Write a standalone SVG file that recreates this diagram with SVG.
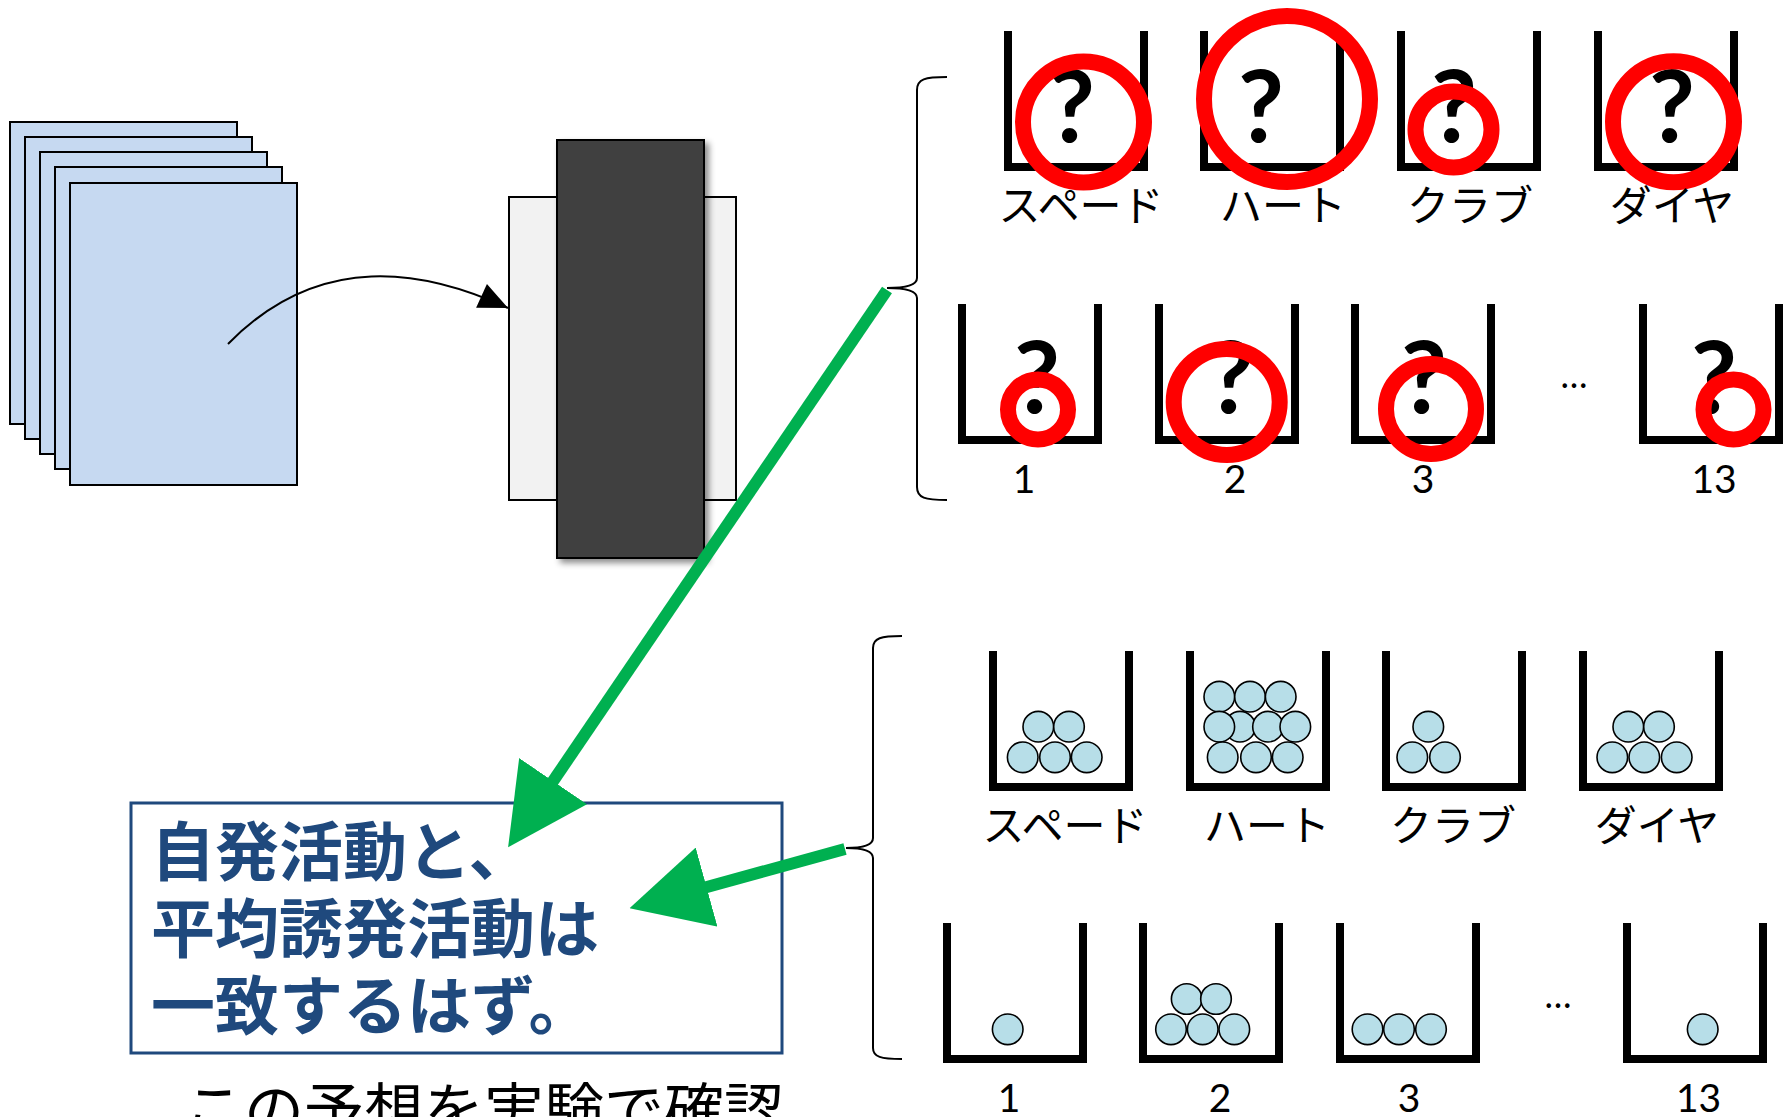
<svg xmlns="http://www.w3.org/2000/svg" xmlns:xlink="http://www.w3.org/1999/xlink" width="1783" height="1117" viewBox="0 0 1783 1117">
<defs>
<style>
.paper{fill:#c6d9f1;stroke:#000;stroke-width:2}
.bk{fill:none;stroke:#000;stroke-width:8;stroke-linejoin:miter}
.q{font-family:Lato,"Liberation Sans",sans-serif;font-weight:bold;font-size:100px;fill:#000;text-anchor:middle}
.ring{fill:none;stroke:#ff0000;stroke-width:16}
.lab{font-family:"Noto Sans CJK JP",sans-serif;font-size:42px;fill:#000;text-anchor:middle}
.num{font-family:Lato,"Liberation Sans",sans-serif;font-size:39px;fill:#000;text-anchor:middle}
.dots{font-family:Lato,"Liberation Sans",sans-serif;font-size:36px;fill:#000;text-anchor:middle}
.ball{fill:#b7dee8;stroke:#000;stroke-width:1.6}
.brace{fill:none;stroke:#000;stroke-width:2}
.green{fill:none;stroke:#00b050;stroke-width:12;marker-end:url(#gArrow)}
.jp{font-family:"Noto Sans CJK JP",sans-serif;font-weight:bold;font-size:64px;fill:#1f497d}
</style>
<path id="basket" class="bk" d="M0,0 V136 H136 V0"/>
<marker id="gArrow" markerUnits="userSpaceOnUse" markerWidth="80" markerHeight="82" viewBox="0 0 78 80" refX="18" refY="40" orient="auto">
<path d="M0,0 L78,40 L0,80 Z" fill="#00b050"/>
</marker>
<marker id="kArrow" markerUnits="userSpaceOnUse" markerWidth="30" markerHeight="26" viewBox="0 0 28 25" refX="28" refY="12.5" orient="auto">
<path d="M0,0 L28,12.5 L0,25 Z" fill="#000"/>
</marker>
<filter id="shadow" x="-20%" y="-10%" width="150%" height="130%">
<feDropShadow dx="4" dy="4" stdDeviation="3" flood-color="#000" flood-opacity="0.45"/>
</filter>
</defs>
<rect width="1783" height="1117" fill="#fff"/>

<g id="paper-stack">
<rect class="paper" x="10" y="122" width="227" height="302"/>
<rect class="paper" x="25" y="137" width="227" height="302"/>
<rect class="paper" x="40" y="152" width="227" height="302"/>
<rect class="paper" x="55" y="167" width="227" height="302"/>
<rect class="paper" x="70" y="183" width="227" height="302"/>
</g>

<g id="model">
<rect x="509" y="197" width="227" height="303" fill="#f2f2f2" stroke="#000" stroke-width="2"/>
<rect x="557" y="140" width="147" height="418" fill="#404040" stroke="#000" stroke-width="2" filter="url(#shadow)"/>
</g>

<g id="top-suits">
<g id="t-spade"><use href="#basket" x="1008" y="31"/><text class="q" x="1072" y="142">?</text><circle class="ring" cx="1083.5" cy="122" r="60.5"/><text class="lab" x="1081" y="221">スペード</text></g>
<g id="t-heart"><use href="#basket" x="1204" y="31"/><text class="q" x="1261" y="142">?</text><circle class="ring" cx="1287" cy="99" r="83"/><text class="lab" x="1283" y="221">ハート</text></g>
<g id="t-club"><use href="#basket" x="1401" y="31"/><text class="q" x="1454" y="142">?</text><circle class="ring" cx="1453.5" cy="129.5" r="38"/><text class="lab" x="1470" y="221">クラブ</text></g>
<g id="t-diamond"><use href="#basket" x="1598" y="31"/><text class="q" x="1672" y="142">?</text><circle class="ring" cx="1673.5" cy="121.7" r="60.5"/><text class="lab" x="1672" y="221">ダイヤ</text></g>
</g>

<g id="top-numbers">
<g id="t-n1"><use href="#basket" x="962" y="304"/><text class="q" x="1037" y="413">?</text><circle class="ring" cx="1038" cy="409.5" r="30"/><text class="num" x="1024" y="493">1</text></g>
<g id="t-n2"><use href="#basket" x="1159" y="304"/><text class="q" x="1231" y="413">?</text><circle class="ring" cx="1226.7" cy="402" r="53"/><text class="num" x="1235" y="493">2</text></g>
<g id="t-n3"><use href="#basket" x="1355" y="304"/><text class="q" x="1424" y="413">?</text><circle class="ring" cx="1431" cy="409" r="45"/><text class="num" x="1423" y="493">3</text></g>
<text class="dots" x="1574" y="388">…</text>
<g id="t-n13"><use href="#basket" x="1643" y="304"/><text class="q" x="1714" y="413">?</text><circle class="ring" cx="1733.5" cy="409.5" r="30"/><text class="num" x="1714" y="493">13</text></g>
</g>

<g id="bottom-suits">
<g id="b-spade"><use href="#basket" x="993" y="651"/>
<circle class="ball" cx="1022.7" cy="757.3" r="15.3"/><circle class="ball" cx="1055" cy="757.3" r="15.3"/><circle class="ball" cx="1086.7" cy="757.3" r="15.3"/><circle class="ball" cx="1038.3" cy="726.7" r="15.3"/><circle class="ball" cx="1069" cy="726.7" r="15.3"/>
<text class="lab" x="1065" y="841">スペード</text></g>
<g id="b-heart"><use href="#basket" x="1190" y="651"/>
<circle class="ball" cx="1219.3" cy="696.7" r="15.3"/><circle class="ball" cx="1250" cy="696.7" r="15.3"/><circle class="ball" cx="1280.7" cy="696.7" r="15.3"/>
<circle class="ball" cx="1240" cy="726.7" r="15.3"/><circle class="ball" cx="1219.3" cy="726.7" r="15.3"/><circle class="ball" cx="1268" cy="726.7" r="15.3"/><circle class="ball" cx="1295.3" cy="726.7" r="15.3"/>
<circle class="ball" cx="1222.7" cy="757.3" r="15.3"/><circle class="ball" cx="1256" cy="757.3" r="15.3"/><circle class="ball" cx="1287.7" cy="757.3" r="15.3"/>
<text class="lab" x="1267" y="841">ハート</text></g>
<g id="b-club"><use href="#basket" x="1386" y="651"/>
<circle class="ball" cx="1412.3" cy="757.3" r="15.3"/><circle class="ball" cx="1445" cy="757.3" r="15.3"/><circle class="ball" cx="1428.3" cy="726.7" r="15.3"/>
<text class="lab" x="1453" y="841">クラブ</text></g>
<g id="b-diamond"><use href="#basket" x="1583" y="651"/>
<circle class="ball" cx="1612.3" cy="757.3" r="15.3"/><circle class="ball" cx="1644.3" cy="757.3" r="15.3"/><circle class="ball" cx="1676.7" cy="757.3" r="15.3"/><circle class="ball" cx="1628.3" cy="726.7" r="15.3"/><circle class="ball" cx="1659" cy="726.7" r="15.3"/>
<text class="lab" x="1657" y="841">ダイヤ</text></g>
</g>

<g id="bottom-numbers">
<g id="b-n1"><use href="#basket" x="947" y="923"/><circle class="ball" cx="1007.7" cy="1029.3" r="15.3"/><text class="num" x="1009" y="1112">1</text></g>
<g id="b-n2"><use href="#basket" x="1143" y="923"/>
<circle class="ball" cx="1171" cy="1029.3" r="15.3"/><circle class="ball" cx="1202.7" cy="1029.3" r="15.3"/><circle class="ball" cx="1234.3" cy="1029.3" r="15.3"/><circle class="ball" cx="1186.7" cy="999" r="15.3"/><circle class="ball" cx="1216" cy="999" r="15.3"/>
<text class="num" x="1220" y="1112">2</text></g>
<g id="b-n3"><use href="#basket" x="1340" y="923"/>
<circle class="ball" cx="1367.5" cy="1029.3" r="15.3"/><circle class="ball" cx="1399" cy="1029.3" r="15.3"/><circle class="ball" cx="1431" cy="1029.3" r="15.3"/>
<text class="num" x="1409" y="1112">3</text></g>
<text class="dots" x="1558" y="1008">…</text>
<g id="b-n13"><use href="#basket" x="1627" y="923"/><circle class="ball" cx="1702.7" cy="1029.3" r="15.3"/><text class="num" x="1698.5" y="1112">13</text></g>
</g>

<g id="braces">
<path class="brace" d="M947,77 C925,77 917,79 917,90 L917,278 C917,285 905,288 887,288 C905,288 917,291 917,298 L917,487 C917,498 925,500 947,500"/>
<path class="brace" d="M902,636 C881,636 873,638 873,648 L873,838 C873,845 862,848 846,848 C862,848 873,851 873,858 L873,1048 C873,1057 881,1059 902,1059"/>
</g>

<g id="conclusion">
<rect x="131" y="803" width="651" height="250" fill="#fff" stroke="#1f497d" stroke-width="3"/>
<text class="jp" x="151" y="875">自発活動と、</text>
<text class="jp" x="151" y="952">平均誘発活動は</text>
<text class="jp" x="151" y="1029">一致するはず。</text>
</g>

<g id="caption">
<text x="184" y="1133" font-family="'Noto Sans CJK JP',sans-serif" font-size="60" fill="#000">この予想を実験で確認</text>
</g>

<g id="connectors">
<path d="M228,344 C320,250 425,270 508,308" fill="none" stroke="#000" stroke-width="2" marker-end="url(#kArrow)"/>
<path class="green" d="M887,290 L542.7,796.4"/>
<path class="green" d="M845,849 L688.8,892"/>
</g>
</svg>
